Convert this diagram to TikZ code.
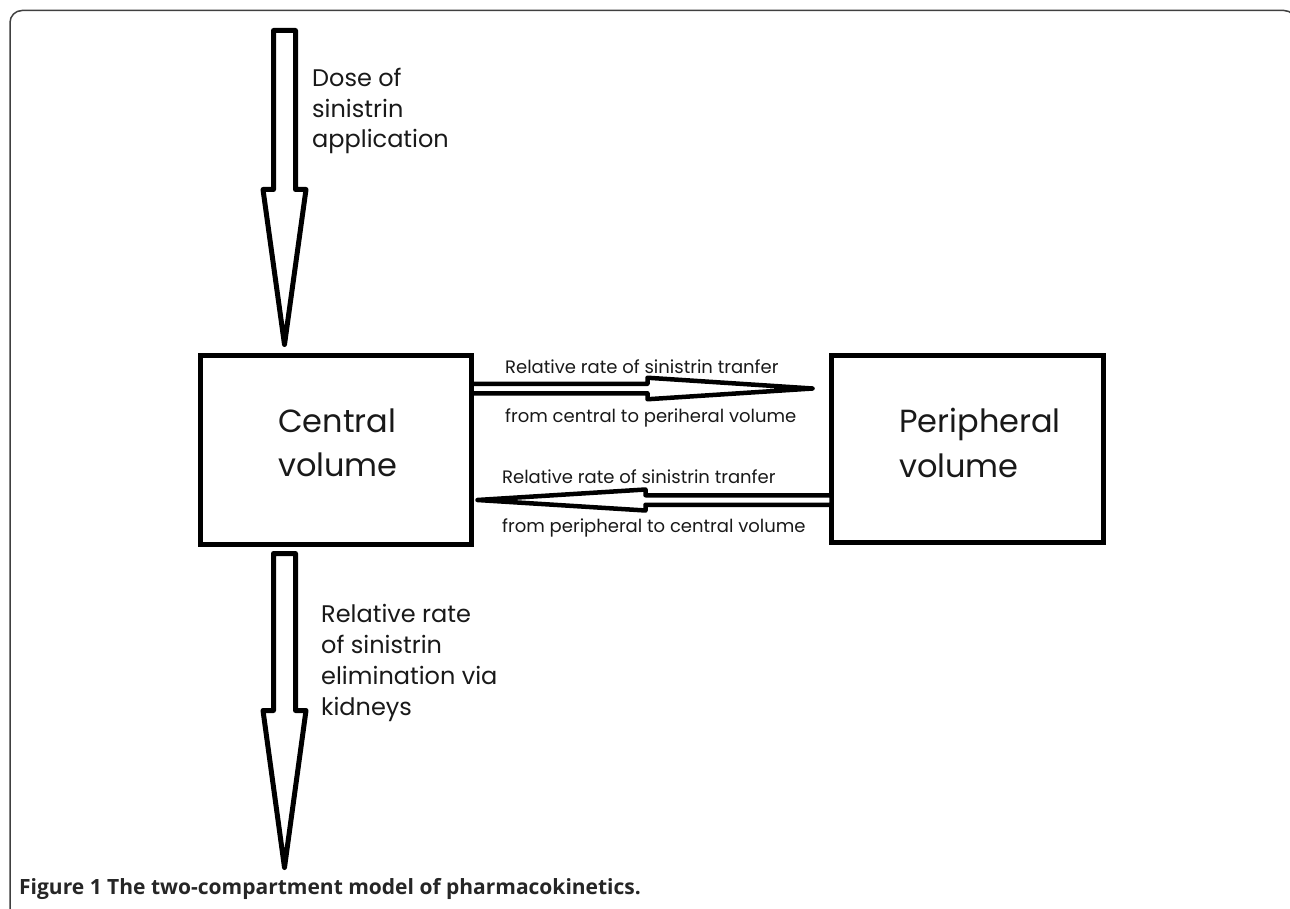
\documentclass[tikz,border=0pt]{standalone}
\usepackage{fontspec}
\setmainfont{Poppins}
\newfontfamily\capfont{Open Sans}
\usetikzlibrary{calc}
\newcommand\blockarrow[6][]{%
  \coordinate (ba-h) at ($(#3)!#6!(#2)$);
  \draw[barrow,#1] ($(#2)!#4!90:(#3)$) -- ($(ba-h)!#4!90:(#3)$) -- ($(ba-h)!#5!90:(#3)$)
     -- (#3) -- ($(ba-h)!#5!-90:(#3)$) -- ($(ba-h)!#4!-90:(#3)$) -- ($(#2)!#4!-90:(#3)$) -- cycle;}
\tikzset{
  barrow/.style={draw=black, line width=5pt, line join=round, fill=white},
  hbarrow/.style={line width=4.5pt},
  box/.style={draw=black, line width=5pt, inner sep=0pt, outer sep=0pt},
  bigtxt/.style={anchor=base west, inner sep=0pt, text=black!90, font=\fontsize{32}{40}\selectfont},
  midtxt/.style={anchor=base west, inner sep=0pt, text=black!90, font=\fontsize{24}{30}\selectfont},
  smalltxt/.style={anchor=base west, inner sep=0pt, text=black!90, font=\fontsize{18}{22}\selectfont},
  frame/.style={draw=black!75, line width=1.5pt, rounded corners=12pt}
}
\begin{document}
\begin{tikzpicture}[x=1pt,y=-1pt]
\useasboundingbox (0,0) rectangle (1290,909);
\clip (0,0) rectangle (1290,909);
\fill[white] (0,0) rectangle (1290,909);
\draw[frame] (10,940) -- (10,10.5) -- (1296,10.5) -- (1296,940);

% boxes
\node[box, minimum width=271pt, minimum height=189pt] (cv) at (336,450) {};
\node[box, minimum width=272pt, minimum height=187pt] (pv) at (967.5,449) {};
\node[bigtxt] (cvt1) at (278,432) {Central};
\node[bigtxt] (cvt2) at (278,476) {volume};
\node[bigtxt] (pvt1) at (899,432) {Peripheral};
\node[bigtxt] (pvt2) at (899,477) {volume};

% dose arrow
\coordinate (dose-tail) at (284.5,30.5);
\coordinate (dose-tip) at (284.5,344.5);
\blockarrow{dose-tail}{dose-tip}{11pt}{21.5pt}{155pt}
\node[midtxt] (d1) at (312,87) {Dose of};
\node[midtxt] (d2) at (312,118) {sinistrin};
\node[midtxt] (d3) at (312,148) {application};

% elimination arrow
\coordinate (el-tail) at (284.5,553.5);
\coordinate (el-tip) at (284.5,867.5);
\blockarrow{el-tail}{el-tip}{11pt}{21.5pt}{157pt}
\node[midtxt] (e1) at (321,622) {Relative rate};
\node[midtxt] (e2) at (321,653) {of sinistrin};
\node[midtxt] (e3) at (321,684) {elimination via};
\node[midtxt] (e4) at (321,715) {kidneys};

% central -> peripheral
\coordinate (cp-tail) at (cv.east |- 0,388.5);
\coordinate (cp-tip) at (812.5,388.5);
\blockarrow[hbarrow]{cp-tail}{cp-tip}{4.75pt}{10.75pt}{165pt}
\node[smalltxt] (cp1) at (505,373) {Relative rate of sinistrin tranfer};
\node[smalltxt] (cp2) at (505,422) {from central to periheral volume};

% peripheral -> central
\coordinate (pc-tail) at (pv.west |- 0,500);
\coordinate (pc-tip) at (477.5,500);
\blockarrow[hbarrow]{pc-tail}{pc-tip}{4.75pt}{10.5pt}{168pt}
\node[smalltxt] (pc1) at (502,483) {Relative rate of sinistrin tranfer};
\node[smalltxt] (pc2) at (502,532) {from peripheral to central volume};

% caption
\node[anchor=base west, inner sep=0pt, text=black!85, font=\capfont\bfseries\fontsize{21}{25}\selectfont] (cap) at (19,894) {Figure 1 The two-compartment model of pharmacokinetics.};
\end{tikzpicture}
\end{document}
